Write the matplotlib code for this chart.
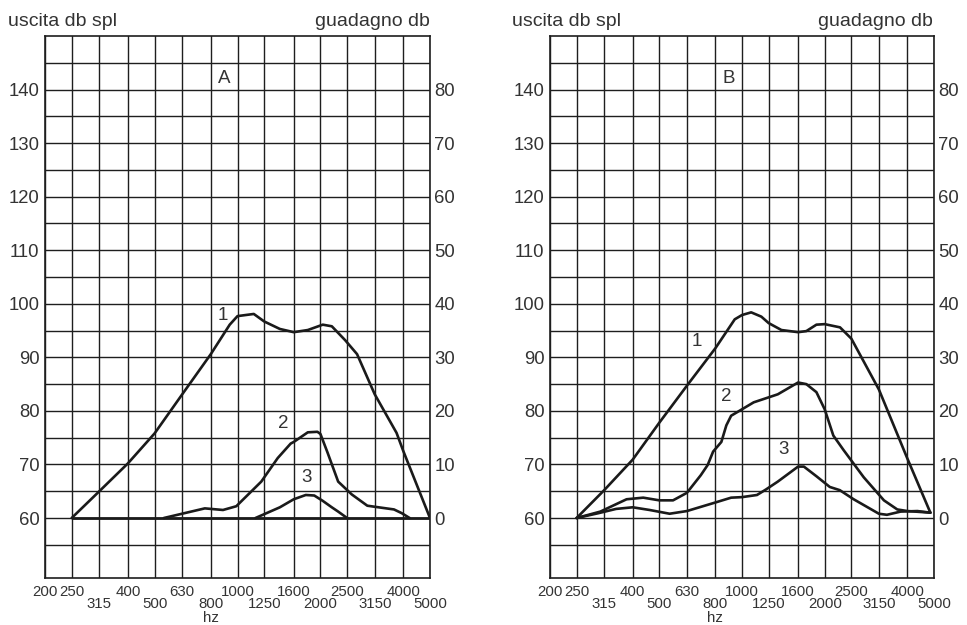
import matplotlib
matplotlib.use("Agg")
import matplotlib.pyplot as plt
from matplotlib.ticker import FixedLocator, NullFormatter

plt.rcParams['font.family'] = ['Liberation Sans', 'DejaVu Sans']

# ---- data ----
freq_ticks = [200, 250, 315, 400, 500, 630, 800, 1000, 1250, 1600, 2000, 2500, 3150, 4000, 5000]
freq_top = [200, 250, 400, 630, 1000, 1600, 2500, 4000]
freq_bottom = [315, 500, 800, 1250, 2000, 3150, 5000]
left_ticks = [60, 70, 80, 90, 100, 110, 120, 130, 140]
right_ticks = [0, 10, 20, 30, 40, 50, 60, 70, 80]

# Panel A
a1_f = [250, 315, 400, 500, 630, 800, 937, 1000, 1146, 1250, 1425, 1600, 1800, 2040, 2200, 2460, 2717, 3150, 3780, 4000, 5000]
a1_v = [60, 65, 70.2, 75.8, 83.1, 90.6, 96.1, 97.7, 98.1, 96.7, 95.3, 94.7, 95.1, 96.1, 95.8, 93.2, 90.6, 83.1, 75.9, 72.5, 60]
a2_f = [540, 761, 886, 990, 1220, 1400, 1560, 1600, 1800, 1950, 2000, 2120, 2320, 2600, 2960, 3150, 3700, 3950, 4217]
a2_v = [60, 61.8, 61.5, 62.2, 66.8, 71.2, 73.9, 74.2, 76.0, 76.1, 75.7, 72.3, 66.8, 64.4, 62.3, 62.1, 61.6, 60.9, 60]
a3_f = [1162, 1425, 1600, 1770, 1900, 2040, 2200, 2320, 2500]
a3_v = [60, 62.0, 63.5, 64.3, 64.2, 63.2, 62.0, 61.2, 60]
a_base_f = [250, 5000]
a_base_v = [60, 60]

# Panel B
b1_f = [250, 315, 400, 500, 630, 800, 941, 1000, 1080, 1176, 1250, 1392, 1600, 1715, 1866, 2000, 2274, 2500, 3150, 4000, 4850]
b1_v = [60, 65.2, 70.9, 77.8, 84.7, 91.7, 97.1, 97.9, 98.4, 97.6, 96.4, 95.1, 94.7, 94.9, 96.1, 96.2, 95.6, 93.5, 84, 71.1, 61]
b2_f = [250, 305, 380, 437, 500, 561, 630, 708, 750, 785, 841, 877, 913, 1000, 1103, 1350, 1600, 1715, 1866, 2000, 2150, 2342, 2775, 3286, 3675, 4000, 4850]
b2_v = [60, 61.2, 63.5, 63.8, 63.3, 63.3, 64.7, 68.0, 69.9, 72.4, 74.2, 77.3, 79.1, 80.3, 81.6, 83.1, 85.3, 85.0, 83.5, 80.3, 75.4, 72.7, 67.6, 63.3, 61.6, 61.3, 61]
b3_f = [250, 300, 348, 400, 461, 545, 630, 800, 913, 1000, 1134, 1220, 1350, 1600, 1680, 1866, 2087, 2270, 2550, 3150, 3370, 3780, 4350, 4850]
b3_v = [60, 60.9, 61.7, 62.0, 61.5, 60.8, 61.3, 62.9, 63.8, 63.9, 64.3, 65.3, 66.8, 69.6, 69.6, 67.8, 65.8, 65.2, 63.5, 60.8, 60.6, 61.2, 61.3, 61]

a_labels = [("1", 881, 97.9), ("2", 1468, 77.7), ("3", 1775, 67.5)]
b_labels = [("1", 687, 92.9), ("2", 878, 82.7), ("3", 1418, 72.7)]

W, H = 967, 625
fig = plt.figure(figsize=(W / 100, H / 100), dpi=100)
fig.patch.set_facecolor('white')

GRID_C = '#1e1e1e'
TEXT_C = '#333333'
CURVE_C = '#1a1a1a'


def make_panel(x0px, x1px, letter, curves, labels, baseline=None):
    ax = fig.add_axes([x0px / W, 1 - 578 / H, (x1px - x0px) / W, 542 / H])
    ax.set_xscale('log')
    ax.set_xlim(200, 5000)
    ax.set_ylim(48.8, 150)
    ax.set_xticks(freq_top, [str(f) for f in freq_top])
    ax.set_xticks(freq_bottom, [str(f) for f in freq_bottom], minor=True)
    ax.set_yticks(left_ticks, [str(v) for v in left_ticks])
    ax.yaxis.set_minor_locator(FixedLocator(list(range(55, 150, 5))))
    ax.yaxis.set_minor_formatter(NullFormatter())
    ax.grid(True, which='both', color=GRID_C, linewidth=1.0)
    ax.set_axisbelow(True)
    ax.tick_params(axis='x', which='major', length=0, pad=5, labelsize=10.8, labelcolor=TEXT_C)
    ax.tick_params(axis='x', which='minor', length=0, pad=14, labelsize=10.8, labelcolor=TEXT_C)
    ax.tick_params(axis='y', which='both', length=0, pad=4, labelsize=13.3, labelcolor=TEXT_C)
    for s in ax.spines.values():
        s.set_color(GRID_C)
        s.set_linewidth(1.2)
    sec = ax.secondary_yaxis('right', functions=(lambda v: v - 60, lambda g: g + 60))
    sec.set_yticks(right_ticks, [str(v) for v in right_ticks])
    sec.tick_params(length=0, pad=3, labelsize=13.3, labelcolor=TEXT_C)
    sec.spines['right'].set_visible(False)

    if baseline is not None:
        ax.plot(baseline[0], baseline[1], color=CURVE_C, linewidth=2.0, solid_capstyle='butt')
    for f, v in curves:
        ax.plot(f, v, color=CURVE_C, linewidth=1.9, solid_joinstyle='round', solid_capstyle='round')
    for t, f, v in labels:
        ax.text(f, v, t, ha='center', va='center', fontsize=13.5, color=TEXT_C)
    ax.text(895, 140.4, letter, ha='center', va='bottom', fontsize=13.5, color=TEXT_C)
    ax.text(800, -0.074, 'hz', ha='center', va='center', fontsize=10.8, color=TEXT_C,
            transform=ax.get_xaxis_transform())
    return ax


make_panel(45, 430, 'A', [(a1_f, a1_v), (a2_f, a2_v), (a3_f, a3_v)], a_labels,
           baseline=(a_base_f, a_base_v))
make_panel(550, 934, 'B', [(b1_f, b1_v), (b2_f, b2_v), (b3_f, b3_v)], b_labels)

for xl, xr in [(8, 430), (512, 933)]:
    fig.text(xl / W, 1 - 26.5 / H, 'uscita db spl', ha='left', va='baseline', fontsize=14, color=TEXT_C)
    fig.text(xr / W, 1 - 26.5 / H, 'guadagno db', ha='right', va='baseline', fontsize=14, color=TEXT_C)

fig.savefig('out.png', dpi=100, facecolor='white')
